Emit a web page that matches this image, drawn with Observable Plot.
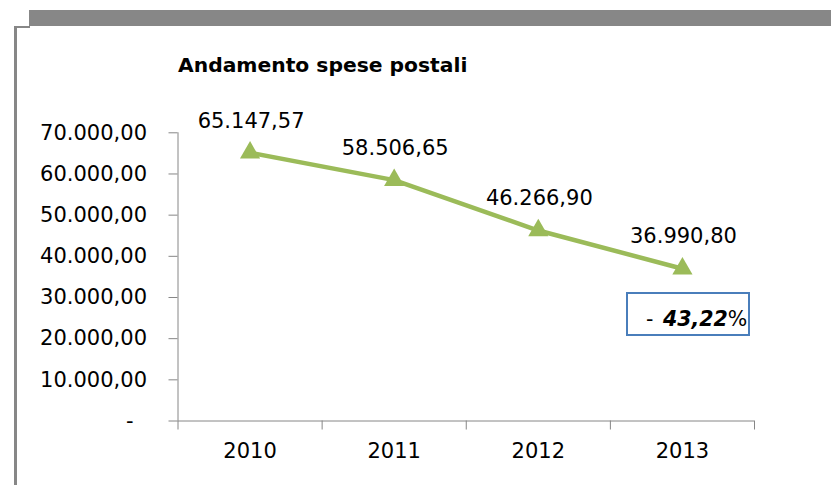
<!DOCTYPE html>
<html>
<head>
<meta charset="utf-8">
<script src="https://cdn.jsdelivr.net/npm/d3@7"></script>
<script src="https://cdn.jsdelivr.net/npm/@observablehq/plot@0.6"></script>
<style>
  html, body { margin: 0; padding: 0; background: #fff; overflow: hidden; }
  #wrap { position: fixed; left: 0; top: 0; width: 831px; height: 485px; background: #fff; overflow: hidden; font-family: "DejaVu Sans", sans-serif; }
  #chart { position: absolute; left: 0; top: 0; width: 831px; height: 485px; }
  #chart svg { display: block; max-width: none; background: none; }
  .deco { position: absolute; background: #878787; }
  #title { position: absolute; left: 178px; top: 55px; font-size: 20.3px; line-height: 20px; font-weight: bold; color: #000; white-space: nowrap; }
  #box { position: absolute; left: 626px; top: 292px; width: 120px; height: 40px; border: 2px solid #4A7EBB; }
  #pct { position: absolute; left: 646px; top: 309px; font-size: 20.5px; line-height: 20px; color: #000; white-space: nowrap; }
  #pct b { font-style: italic; font-weight: bold; margin-left: 3px; }
</style>
</head>
<body>
<div id="wrap">
  <div id="chart"></div>
  <div class="deco" style="left:29px;top:10px;width:802px;height:16px;"></div>
  <div class="deco" style="left:14px;top:26px;width:16px;height:2px;"></div>
  <div class="deco" style="left:14px;top:26px;width:3px;height:459px;"></div>
  <div id="title"></div>
  <div id="box"></div>
  <div id="pct"></div>
</div>
<script>
// ---- data ----
const titleText = "Andamento spese postali";
const years = ["2010", "2011", "2012", "2013"];
const values = [65147.57, 58506.65, 46266.90, 36990.80];
const yTicks = [0, 10000, 20000, 30000, 40000, 50000, 60000, 70000];
const changeParts = ["-", "43,22", "%"];

// ---- formatting ----
const itLocale = d3.formatLocale({decimal: ",", thousands: ".", grouping: [3], currency: ["€", ""]});
const fmt = itLocale.format(",.2f");
const fmtTick = d => d === 0 ? "-\u00a0\u00a0" : fmt(d);

const data = years.map((year, i) => ({i, year, value: values[i]}));
const centers = years.map((_, i) => i);
const boundaries = years.map((_, i) => i - 0.5).concat([years.length - 0.5]);

const axisGray = "#868686";
const green = "#9BBB59";

const chart = Plot.plot({
  width: 831,
  height: 485,
  marginLeft: 177.5,
  marginRight: 77,
  marginTop: 132.3,
  marginBottom: 64.5,
  style: {fontFamily: "DejaVu Sans, sans-serif", fontSize: "21px", background: "none", color: "#000"},
  x: {type: "linear", domain: [-0.5, years.length - 0.5], label: null},
  y: {domain: [0, 70000], label: null},
  marks: [
    Plot.axisY({ticks: yTicks, tickSize: 9, tickPadding: 22, tickFormat: fmtTick, stroke: axisGray, fill: "#000", fontSize: 21, label: null}),
    Plot.axisX({ticks: boundaries, tickSize: 9, tickFormat: () => "", stroke: axisGray, label: null}),
    Plot.axisX({ticks: centers, tickSize: 0, tickPadding: 22, tickFormat: i => years[i], fill: "#000", fontSize: 21, label: null}),
    Plot.ruleX([-0.5], {stroke: axisGray}),
    Plot.ruleY([0], {stroke: axisGray}),
    Plot.line(data, {x: "i", y: "value", stroke: green, strokeWidth: 4.5}),
    Plot.dot(data, {x: "i", y: "value", symbol: "triangle", fill: green, stroke: "none", r: 7.5}),
    Plot.text(data, {x: "i", y: "value", text: d => fmt(d.value), dy: -32, dx: 1, fontSize: 21, fill: "#000"})
  ]
});

document.getElementById("chart").appendChild(chart);
document.getElementById("title").textContent = titleText;

const pct = document.getElementById("pct");
pct.appendChild(document.createTextNode(changeParts[0] + " "));
const b = document.createElement("b");
b.textContent = changeParts[1];
pct.appendChild(b);
pct.appendChild(document.createTextNode(changeParts[2]));
</script>
</body>
</html>
